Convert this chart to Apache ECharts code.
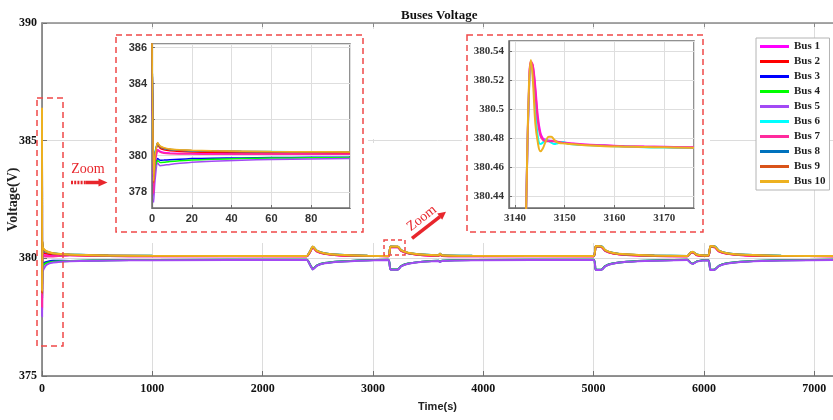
<!DOCTYPE html>
<html>
<head>
<meta charset="utf-8">
<title>Buses Voltage</title>
<script src="https://cdn.jsdelivr.net/npm/echarts@6.0.0/dist/echarts.min.js"></script>
<style>
  html, body { margin: 0; padding: 0; background: #fff; }
  #main { width: 833px; height: 420px; }
</style>
</head>
<body>
<div id="main"></div>
<script>
var busNames = ['Bus 1', 'Bus 2', 'Bus 3', 'Bus 4', 'Bus 5', 'Bus 6', 'Bus 7', 'Bus 8', 'Bus 9', 'Bus 10'];
var busColors = ['#FF00FF', '#FF0000', '#0000FF', '#00FF00', '#A349F4', '#00FFFF', '#FF2A9D', '#0072BD', '#D95319', '#EDB120'];

// main plot: whole run, 0 - 7200 s
var mainT = [0, 1, 3, 6, 15, 40, 100, 250, 600, 1000, 2400, 2430, 2455, 2490, 2560, 2700, 2950, 3140, 3160, 3225, 3255, 3320, 3450, 3595, 3608, 3625, 3900, 5000, 5020, 5075, 5105, 5170, 5300, 5550, 5850, 5880, 5900, 5935, 6040, 6060, 6100, 6135, 6210, 6380, 6700, 7200];
var mainBus1 = [386.3, 377.8, 380.4, 380.2, 380.15, 380.12, 380.1, 380.13, 380.1, 380.09, 380.09, 380.27, 380.47, 380.3, 380.19, 380.12, 380.1, 380.09, 380.47, 380.47, 380.32, 380.21, 380.13, 380.1, 380.17, 380.1, 380.09, 380.09, 380.49, 380.47, 380.32, 380.21, 380.14, 380.1, 380.09, 380.22, 380.25, 380.13, 380.1, 380.49, 380.47, 380.3, 380.19, 380.12, 380.1, 380.09];
var mainBus2 = [386.3, 378.9, 380.6, 380.35, 380.25, 380.2, 380.17, 380.14, 380.11, 380.1, 380.09, 380.28, 380.48, 380.31, 380.2, 380.13, 380.1, 380.09, 380.48, 380.48, 380.33, 380.22, 380.14, 380.11, 380.18, 380.11, 380.1, 380.09, 380.5, 380.48, 380.33, 380.22, 380.15, 380.11, 380.09, 380.23, 380.26, 380.14, 380.1, 380.5, 380.48, 380.31, 380.2, 380.13, 380.1, 380.09];
var mainBus3 = [386.3, 378.3, 379.9, 379.75, 379.8, 379.85, 379.9, 379.89, 379.92, 379.93, 379.94, 379.73, 379.54, 379.69, 379.8, 379.87, 379.92, 379.94, 379.53, 379.53, 379.67, 379.78, 379.86, 379.9, 379.85, 379.9, 379.93, 379.94, 379.51, 379.53, 379.67, 379.78, 379.86, 379.91, 379.94, 379.81, 379.77, 379.87, 379.93, 379.51, 379.53, 379.68, 379.79, 379.87, 379.92, 379.94];
var mainBus4 = [386.3, 378.4, 379.8, 379.65, 379.72, 379.8, 379.86, 379.89, 379.92, 379.93, 379.94, 379.73, 379.54, 379.69, 379.8, 379.87, 379.92, 379.94, 379.53, 379.53, 379.67, 379.78, 379.86, 379.9, 379.85, 379.9, 379.93, 379.94, 379.51, 379.53, 379.67, 379.78, 379.86, 379.91, 379.94, 379.81, 379.77, 379.87, 379.93, 379.51, 379.53, 379.68, 379.79, 379.87, 379.92, 379.94];
var mainBus5 = [386.3, 377.5, 379.7, 379.45, 379.55, 379.72, 379.82, 379.88, 379.91, 379.92, 379.93, 379.72, 379.53, 379.68, 379.79, 379.86, 379.91, 379.93, 379.52, 379.52, 379.66, 379.77, 379.85, 379.89, 379.84, 379.89, 379.92, 379.93, 379.5, 379.52, 379.66, 379.77, 379.85, 379.9, 379.93, 379.8, 379.76, 379.86, 379.92, 379.5, 379.52, 379.67, 379.78, 379.86, 379.91, 379.93];
var mainBus6 = [386.3, 379.0, 380.65, 380.45, 380.33, 380.27, 380.22, 380.16, 380.12, 380.11, 380.1, 380.3, 380.49, 380.33, 380.22, 380.15, 380.11, 380.1, 380.5, 380.49, 380.35, 380.23, 380.16, 380.13, 380.19, 380.13, 380.11, 380.1, 380.51, 380.5, 380.34, 380.24, 380.16, 380.12, 380.1, 380.25, 380.27, 380.16, 380.12, 380.51, 380.5, 380.33, 380.22, 380.15, 380.11, 380.1];
var mainBus7 = [386.3, 377.9, 380.35, 380.15, 380.1, 380.08, 380.08, 380.13, 380.1, 380.09, 380.09, 380.27, 380.47, 380.3, 380.19, 380.12, 380.1, 380.09, 380.47, 380.47, 380.32, 380.21, 380.13, 380.1, 380.17, 380.1, 380.09, 380.09, 380.49, 380.47, 380.32, 380.21, 380.14, 380.1, 380.09, 380.22, 380.25, 380.13, 380.1, 380.49, 380.47, 380.3, 380.19, 380.12, 380.1, 380.09];
var mainBus8 = [386.3, 378.7, 380.68, 380.46, 380.36, 380.28, 380.21, 380.16, 380.12, 380.11, 380.1, 380.3, 380.49, 380.33, 380.22, 380.15, 380.11, 380.1, 380.5, 380.49, 380.35, 380.23, 380.16, 380.13, 380.19, 380.13, 380.11, 380.1, 380.51, 380.5, 380.34, 380.24, 380.16, 380.12, 380.1, 380.25, 380.27, 380.16, 380.12, 380.51, 380.5, 380.33, 380.22, 380.15, 380.11, 380.1];
var mainBus9 = [386.3, 378.5, 380.72, 380.48, 380.38, 380.29, 380.21, 380.15, 380.12, 380.1, 380.1, 380.29, 380.49, 380.32, 380.21, 380.14, 380.11, 380.1, 380.49, 380.49, 380.34, 380.23, 380.15, 380.12, 380.19, 380.12, 380.1, 380.1, 380.51, 380.49, 380.34, 380.23, 380.16, 380.11, 380.1, 380.24, 380.27, 380.15, 380.11, 380.51, 380.49, 380.32, 380.21, 380.14, 380.1, 380.1];
var mainBus10 = [386.4, 378.6, 380.7, 380.5, 380.4, 380.3, 380.22, 380.16, 380.12, 380.11, 380.1, 380.3, 380.5, 380.33, 380.22, 380.15, 380.11, 380.1, 380.5, 380.5, 380.35, 380.24, 380.16, 380.13, 380.2, 380.13, 380.11, 380.1, 380.52, 380.5, 380.35, 380.24, 380.17, 380.12, 380.1, 380.25, 380.28, 380.16, 380.12, 380.52, 380.5, 380.33, 380.22, 380.15, 380.11, 380.1];

// left inset: first 100 s
var zoomAT = [0, 0.8, 1.5, 2.8, 4, 6, 9, 14, 20, 30, 45, 60, 80, 99.5];
var zoomABus1 = [386.3, 377.8, 379.6, 380.35, 380.25, 380.18, 380.15, 380.13, 380.12, 380.11, 380.1, 380.1, 380.1, 380.1];
var zoomABus2 = [386.3, 378.9, 380.1, 380.6, 380.42, 380.33, 380.28, 380.24, 380.21, 380.19, 380.17, 380.16, 380.16, 380.15];
var zoomABus3 = [386.3, 378.3, 379.3, 379.85, 379.75, 379.76, 379.78, 379.81, 379.84, 379.86, 379.88, 379.9, 379.91, 379.92];
var zoomABus4 = [386.3, 378.4, 379.2, 379.75, 379.62, 379.64, 379.68, 379.72, 379.76, 379.8, 379.84, 379.87, 379.89, 379.9];
var zoomABus5 = [386.3, 377.4, 378.6, 379.6, 379.45, 379.47, 379.52, 379.58, 379.64, 379.7, 379.75, 379.79, 379.82, 379.84];
var zoomABus6 = [386.3, 379.0, 380.2, 380.68, 380.5, 380.4, 380.35, 380.31, 380.28, 380.26, 380.24, 380.23, 380.22, 380.22];
var zoomABus7 = [386.3, 377.9, 379.5, 380.3, 380.2, 380.14, 380.11, 380.1, 380.09, 380.08, 380.08, 380.08, 380.08, 380.08];
var zoomABus8 = [386.3, 378.8, 380.1, 380.7, 380.5, 380.4, 380.34, 380.3, 380.27, 380.25, 380.23, 380.22, 380.21, 380.2];
var zoomABus9 = [386.3, 378.5, 380.0, 380.72, 380.52, 380.42, 380.36, 380.32, 380.29, 380.26, 380.24, 380.22, 380.21, 380.2];
var zoomABus10 = [386.4, 378.6, 380.0, 380.74, 380.55, 380.45, 380.38, 380.33, 380.3, 380.27, 380.25, 380.23, 380.22, 380.21];

// right inset: around the 3140 s event
var zoomBT = [3141.5, 3142.3, 3142.8, 3143.2, 3143.6, 3144.1, 3144.6, 3145.1, 3145.6, 3146.2, 3146.8, 3147.3, 3147.9, 3148.6, 3149.5, 3151, 3154, 3158, 3162, 3166, 3170, 3176];
var zoomBBus1 = [380.30, 380.44, 380.51, 380.532, 380.53, 380.515, 380.495, 380.484, 380.48, 380.479, 380.4785, 380.4783, 380.478, 380.4777, 380.4772, 380.4766, 380.4757, 380.4752, 380.4746, 380.4743, 380.4741, 380.4738];
var zoomBBus6 = [380.30, 380.44, 380.51, 380.532, 380.524, 380.5, 380.481, 380.476, 380.477, 380.479, 380.478, 380.477, 380.476, 380.4766, 380.4774, 380.476, 380.4753, 380.4748, 380.4743, 380.4738, 380.4736, 380.4734];
var zoomBBus7 = [380.30, 380.44, 380.512, 380.533, 380.53, 380.512, 380.492, 380.482, 380.479, 380.478, 380.478, 380.478, 380.478, 380.4775, 380.477, 380.4765, 380.4755, 380.475, 380.4745, 380.4742, 380.474, 380.4737];
var zoomBBus10 = [380.30, 380.44, 380.515, 380.534, 380.52, 380.49, 380.477, 380.471, 380.473, 380.478, 380.481, 380.481, 380.479, 380.477, 380.4765, 380.476, 380.4752, 380.4745, 380.4742, 380.474, 380.4738, 380.4735];

var mainBus = [mainBus1, mainBus2, mainBus3, mainBus4, mainBus5, mainBus6, mainBus7, mainBus8, mainBus9, mainBus10];
var zoomABus = [zoomABus1, zoomABus2, zoomABus3, zoomABus4, zoomABus5, zoomABus6, zoomABus7, zoomABus8, zoomABus9, zoomABus10];
var zoomBBus = { 0: zoomBBus1, 5: zoomBBus6, 6: zoomBBus7, 9: zoomBBus10 };

var serif = '"Liberation Serif", "Times New Roman", serif';
var sans = '"Liberation Sans", Arial, sans-serif';
var red = '#E8262C';

function pairs(t, v) {
    return t.map(function (x, i) { return [x, v[i]]; });
}
function plain(v) { return String(v); }

var series = [];
busNames.forEach(function (name, i) {
    series.push({
        name: name, type: 'line', xAxisIndex: 0, yAxisIndex: 0,
        data: pairs(mainT, mainBus[i]), showSymbol: false, smooth: 0.2,
        lineStyle: { width: 2, color: busColors[i] }, itemStyle: { color: busColors[i] }
    });
});
busNames.forEach(function (name, i) {
    series.push({
        name: name, type: 'line', xAxisIndex: 2, yAxisIndex: 1, z: 4,
        data: pairs(zoomAT, zoomABus[i]), showSymbol: false, smooth: 0.15,
        lineStyle: { width: 1.5, color: busColors[i] }, itemStyle: { color: busColors[i] }
    });
});
[0, 5, 6, 9].forEach(function (i) {
    series.push({
        name: busNames[i], type: 'line', xAxisIndex: 3, yAxisIndex: 2, z: 4,
        data: pairs(zoomBT, zoomBBus[i]), showSymbol: false, smooth: 0.4,
        lineStyle: { width: 2, color: busColors[i] }, itemStyle: { color: busColors[i] }
    });
});

// shared look of the two inset axes (ticks inside, edge labels hidden)
var insetAxis = function (font) {
    return {
        z: 3,
        axisLine: { lineStyle: { color: '#6e6e6e', width: 1.2 } },
        axisTick: { inside: true, length: 3, lineStyle: { color: '#6e6e6e' } },
        splitLine: { lineStyle: { color: '#dedede' } },
        axisLabel: {
            fontFamily: font, fontWeight: 'bold', fontSize: 11, color: '#333', margin: 5,
            showMinLabel: false, showMaxLabel: false, formatter: plain
        }
    };
};
var zoomAX = insetAxis(sans);
zoomAX.axisLabel.showMinLabel = true;

var myChart = echarts.init(document.getElementById('main'));
myChart.setOption({
    animation: false,
    backgroundColor: '#fff',
    title: {
        text: 'Buses Voltage', left: 396, top: 4,
        textStyle: { fontFamily: serif, fontWeight: 'bold', fontSize: 13, color: '#111' }
    },
    legend: {
        data: busNames, orient: 'vertical', left: 756, top: 38, z: 5,
        padding: [3, 4, 3, 4], itemGap: 4, itemWidth: 29, itemHeight: 3, icon: 'rect',
        backgroundColor: '#fff', borderColor: '#b4b4b4', borderWidth: 1,
        textStyle: { fontFamily: serif, fontWeight: 'bold', fontSize: 11, color: '#222' }
    },
    grid: [
        { left: 42, right: 0, top: 23, bottom: 44, outerBoundsMode: 'none' },
        { left: 152, right: 483, top: 44, bottom: 212, outerBoundsMode: 'none', show: true, z: 3, borderColor: '#6e6e6e', borderWidth: 1.5 },
        { left: 509, right: 139, top: 41, bottom: 212, outerBoundsMode: 'none', show: true, z: 3, borderColor: '#6e6e6e', borderWidth: 1.5 }
    ],
    xAxis: [
        {
            gridIndex: 0, type: 'value', min: 0, max: 7170, interval: 1000,
            axisLine: { lineStyle: { color: '#707070', width: 1.5 } },
            axisTick: { inside: true, length: 5, lineStyle: { color: '#707070' } },
            axisLabel: { fontFamily: serif, fontWeight: 'bold', fontSize: 12, color: '#111', margin: 7, showMaxLabel: false, formatter: plain },
            splitLine: { lineStyle: { color: '#dcdcdc' } },
            name: 'Time(s)', nameLocation: 'middle', nameGap: 25, nameMoveOverlap: false,
            nameTextStyle: { fontFamily: sans, fontWeight: 'bold', fontSize: 11, color: '#222' }
        },
        {
            gridIndex: 0, type: 'value', position: 'top', min: 0, max: 7170, interval: 1000,
            axisLine: { lineStyle: { color: '#8a8a8a', width: 1.5 } },
            axisTick: { inside: true, length: 4, lineStyle: { color: '#8a8a8a' } },
            axisLabel: { show: false }, splitLine: { show: false }
        },
        Object.assign(zoomAX, { gridIndex: 1, type: 'value', min: 0, max: 99.5, interval: 20 }),
        Object.assign(insetAxis(serif), { gridIndex: 2, type: 'value', min: 3138.8, max: 3176 })
    ],
    yAxis: [
        {
            gridIndex: 0, type: 'value', min: 375, max: 390, interval: 5,
            axisLine: { lineStyle: { color: '#707070', width: 1.5 } },
            axisTick: { inside: true, length: 5, lineStyle: { color: '#707070' } },
            axisLabel: { fontFamily: serif, fontWeight: 'bold', fontSize: 12, color: '#111', margin: 5, formatter: plain },
            splitLine: { lineStyle: { color: '#dcdcdc' } },
            name: 'Voltage(V)', nameLocation: 'middle', nameGap: 22, nameMoveOverlap: false,
            nameTextStyle: { fontFamily: serif, fontWeight: 'bold', fontSize: 14, color: '#222' }
        },
        Object.assign(insetAxis(sans), { gridIndex: 1, type: 'value', min: 377.1, max: 386.2 }),
        Object.assign(insetAxis(serif), { gridIndex: 2, type: 'value', min: 380.432, max: 380.547 })
    ],
    series: series,
    graphic: [
        // white patches behind the insets
        { type: 'rect', z: 1, silent: true, shape: { x: 112, y: 29, width: 256, height: 214 }, style: { fill: '#fff' } },
        { type: 'rect', z: 1, silent: true, shape: { x: 462, y: 29, width: 248, height: 214 }, style: { fill: '#fff' } },
        { type: 'rect', z: 1, silent: true, shape: { x: 370, y: 29, width: 7, height: 110 }, style: { fill: '#fff' } },
        { type: 'rect', z: 1, silent: true, shape: { x: 370, y: 143, width: 7, height: 100 }, style: { fill: '#fff' } },
        // dashed red frames
        { type: 'rect', z: 10, shape: { x: 116, y: 35, width: 247, height: 197 }, style: { fill: 'none', stroke: '#F04848', lineWidth: 1.5, lineDash: [6, 4] } },
        { type: 'rect', z: 10, shape: { x: 467, y: 35, width: 236, height: 197 }, style: { fill: 'none', stroke: '#F04848', lineWidth: 1.5, lineDash: [6, 4] } },
        { type: 'rect', z: 10, shape: { x: 37, y: 98, width: 26, height: 248 }, style: { fill: 'none', stroke: '#F04848', lineWidth: 1.5, lineDash: [6, 4] } },
        { type: 'rect', z: 10, shape: { x: 384, y: 240, width: 21, height: 15 }, style: { fill: 'none', stroke: '#F04848', lineWidth: 1.5, lineDash: [4, 3] } },
        // "Zoom" labels and arrows
        { type: 'text', z: 10, x: 88, y: 169, style: { text: 'Zoom', fill: red, font: '14px ' + serif, align: 'center', verticalAlign: 'middle', textAlign: 'center', textVerticalAlign: 'middle' } },
        { type: 'line', z: 10, shape: { x1: 71, y1: 182.5, x2: 86, y2: 182.5 }, style: { stroke: red, lineWidth: 3.5, lineDash: [2, 1.2] } },
        { type: 'line', z: 10, shape: { x1: 86, y1: 182.5, x2: 99, y2: 182.5 }, style: { stroke: red, lineWidth: 3.5 } },
        { type: 'polygon', z: 10, shape: { points: [[107.5, 182.5], [98.5, 178.5], [98.5, 186.5]] }, style: { fill: red } },
        { type: 'text', z: 10, x: 421.7, y: 218.3, rotation: 0.66, style: { text: 'Zoom', fill: red, font: '14px ' + serif, align: 'center', verticalAlign: 'middle', textAlign: 'center', textVerticalAlign: 'middle' } },
        { type: 'line', z: 10, shape: { x1: 412, y1: 238.3, x2: 440, y2: 216.6 }, style: { stroke: red, lineWidth: 3.5 } },
        { type: 'polygon', z: 10, shape: { points: [[446, 211.7], [442.2, 219.8], [437.2, 213.4]] }, style: { fill: red } }
    ]
});
</script>
</body>
</html>
